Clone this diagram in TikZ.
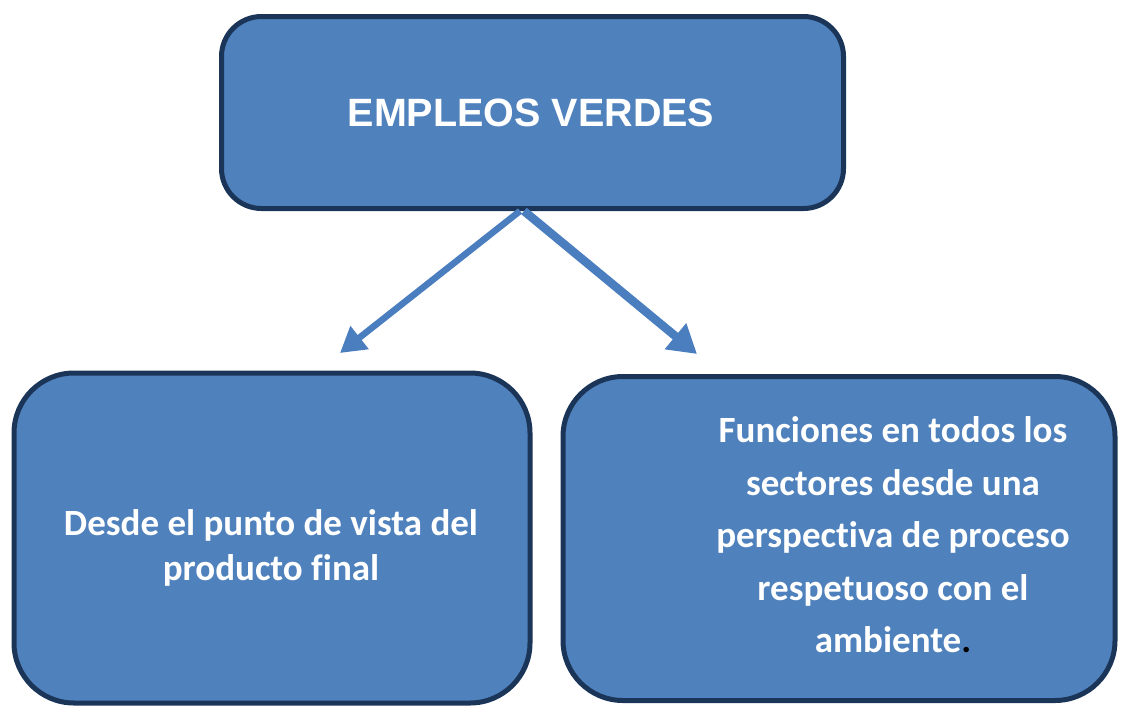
\documentclass[tikz,border=0pt]{standalone}
\usepackage{fontspec}
\setmainfont{Carlito}[Ligatures=NoCommon]
\newfontfamily\headfont{Liberation Sans}
\usetikzlibrary{arrows.meta}
\definecolor{boxfill}{HTML}{4F81BD}
\definecolor{boxline}{HTML}{1B3558}
\definecolor{arrowc}{HTML}{4A7EBF}
\tikzset{
  box/.style={draw=boxline, fill=boxfill, line width=5pt, rounded corners=#1, inner sep=0pt},
  box/.default=40pt,
  txt/.style={text=white, align=center, inner sep=0pt},
  arrl/.style={draw=arrowc, line width=6.5pt, -{Triangle[length=25pt,width=28pt]}},
  arrr/.style={draw=arrowc, line width=8.5pt, -{Triangle[length=28pt,width=32pt]}}
}
\begin{document}
\begin{tikzpicture}[x=1pt,y=-1pt]
\useasboundingbox (0,0) rectangle (1121,710);
\node[box=40pt, minimum width=622pt, minimum height=192pt] (top) at (532.5,112.5) {};
\node[box=60pt, minimum width=516pt, minimum height=330pt] (left) at (272,538) {};
\node[box=60pt, minimum width=552pt, minimum height=324pt] (right) at (839,538.5) {};
\node[txt, font=\headfont\bfseries\fontsize{39.5}{44}\selectfont] (toptext) at (531,113) {EMPLEOS VERDES};
\node[txt, font=\bfseries\fontsize{37}{45}\selectfont] (lefttext) at (271,548) {Desde el punto de vista del\\producto final};
\node[txt, font=\bfseries\fontsize{37}{52.5}\selectfont] (righttext) at (893,535) {Funciones en todos los\\sectores desde una\\perspectiva de proceso\\respetuoso con el\\ambiente{\color{black}.}};
\coordinate (la) at (340,353);
\coordinate (ra) at (697,354);
\draw[arrl] ([xshift=-12.5pt]top.south) -- (la);
\draw[arrr] ([xshift=-8.5pt]top.south) -- (ra);
\end{tikzpicture}
\end{document}
